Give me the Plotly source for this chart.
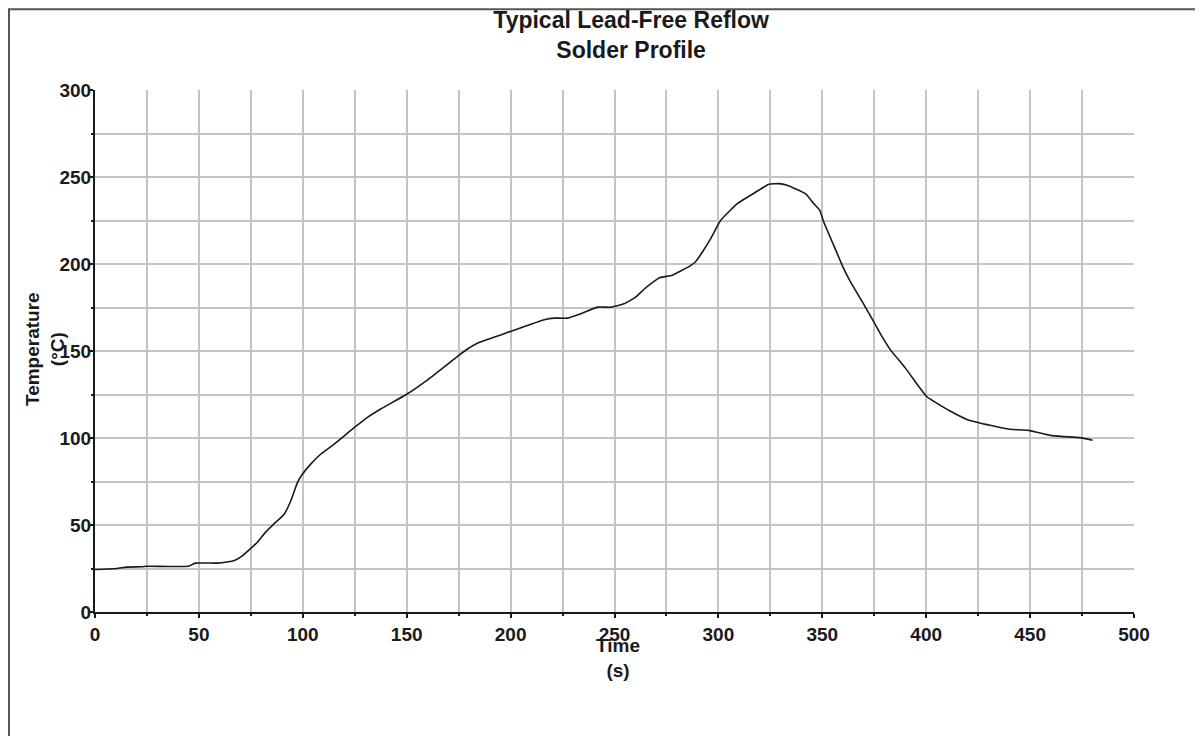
"""Profil de refusion sans plomb (température vs temps)."""

import plotly.graph_objects as go

# Temps (s) et température (°C)
time_s = [
    0, 10.4, 15.2, 22.5, 24.9, 45, 48.2, 58.6, 63.4, 67.4, 70.7, 74.7, 77.9, 81.9,
    85.9, 88.3, 91, 94.2, 97.4, 99.8, 103.8, 108.7, 115.1, 125, 131.1, 137.5, 149.8,
    160.2, 175.1, 179.4, 185, 200.2, 206.6, 216.2, 221, 227.4, 233.8, 241.8, 248.2,
    254.6, 260.2, 264.2, 268.2, 272, 277.8, 286.6, 289, 292.3, 296.3, 301.1, 309.1,
    315.5, 324.3, 329.1, 333.1, 341.9, 345.9, 348.8, 350.7, 355.5, 360.3, 363.5,
    369.5, 375, 378.7, 382.7, 389.9, 396.3, 400.3, 403.5, 411.5, 419.6, 430.8, 440.4,
    449.2, 459.6, 466, 474, 480.1,
]
temp_c = [
    24.4, 25, 25.8, 26, 26.3, 26.3, 28.1, 28.1, 28.7, 29.8, 32.1, 36.3, 39.8, 45.6,
    50.4, 53, 56.2, 63.8, 74.4, 79.2, 85, 90.8, 96.5, 106.2, 111.9, 116.7, 125,
    133.6, 147.5, 151.3, 155, 161.3, 164.1, 168, 168.9, 168.9, 171.4, 175.2, 175.2,
    177.1, 180.9, 185.5, 189.3, 192.2, 193.6, 199.1, 201.3, 206.9, 214.6, 225.1, 234.7,
    239.5, 245.8, 246.2, 245.2, 240.4, 234.7, 230.8, 224.1, 210.7, 197.3, 189.9,
    177.8, 166.3, 158.4, 150.8, 140.3, 129.8, 123.7, 121.2, 115.5, 110.7, 107.3, 105,
    104.4, 101.5, 100.8, 100.2, 98.7,
]

x_range = [0, 500]
y_range = [0, 300]

FONT = "Liberation Sans, Arial, sans-serif"
INK = "#1a1a1a"
GRID = "#c3c3c8"

fig = go.Figure(
    go.Scatter(
        x=time_s,
        y=temp_c,
        mode="lines",
        line={"color": INK, "width": 1.6, "shape": "spline", "smoothing": 0.4},
        hoverinfo="x+y",
        showlegend=False,
    )
)

axis_common = dict(
    showline=True,
    linecolor=INK,
    linewidth=2,
    ticks="outside",
    tickcolor=INK,
    tickwidth=1.5,
    ticklen=4,
    dtick=50,
    showgrid=True,
    gridcolor=GRID,
    gridwidth=1.5,
    zeroline=False,
    tickfont={"family": FONT, "size": 19, "color": INK, "weight": "bold"},
    minor={
        "dtick": 25,
        "ticks": "outside",
        "ticklen": 2,
        "tickcolor": INK,
        "tickwidth": 1.5,
        "showgrid": True,
        "gridcolor": GRID,
        "gridwidth": 1.5,
    },
)

fig.update_xaxes(range=x_range, ticklabelstandoff=0, **axis_common)
fig.update_yaxes(range=y_range, ticklabelstandoff=-6, **axis_common)

fig.update_layout(
    width=1203,
    height=736,
    # la page ajoute 8 px de marge autour du graphique
    margin={"l": 87, "r": 77, "t": 82, "b": 132},
    paper_bgcolor="white",
    plot_bgcolor="white",
    title={
        "text": "Typical Lead-Free Reflow<br>Solder Profile",
        "font": {"family": FONT, "size": 23, "color": INK, "weight": "bold"},
        "x": 0.516,
        "xref": "paper",
        "xanchor": "center",
        "y": 1 - 20 / 736,
        "yref": "container",
        "yanchor": "middle",
    },
    annotations=[
        dict(
            text="Time<br>(s)",
            xref="paper", yref="paper",
            x=0.503, y=-0.088,
            xanchor="center", yanchor="middle",
            showarrow=False,
            font={"family": FONT, "size": 19, "color": INK, "weight": "bold"},
        ),
        dict(
            text="Temperature<br>(°C)",
            xref="paper", yref="paper",
            x=-0.048, y=0.504,
            xanchor="center", yanchor="middle",
            textangle=-90,
            showarrow=False,
            font={"family": FONT, "size": 19, "color": INK, "weight": "bold"},
        ),
    ],
    # cadre gris autour du graphique (déborde à droite et en bas)
    shapes=[
        dict(
            type="rect",
            xref="paper", yref="paper",
            x0=-0.0828, x1=1.2, y0=-0.4, y1=1.1548,
            line={"color": "#555555", "width": 2},
            layer="below",
        )
    ],
)

fig.write_html("out.html")
